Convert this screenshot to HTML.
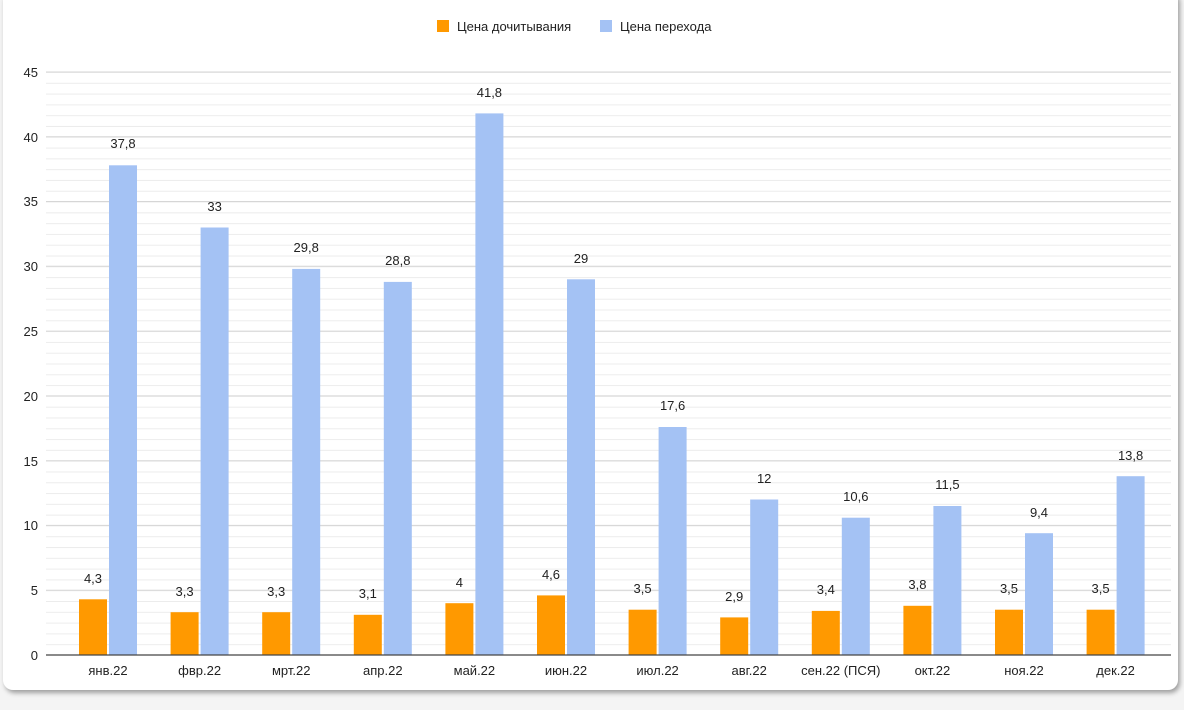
<!DOCTYPE html>
<html><head><meta charset="utf-8"><style>
html,body{margin:0;padding:0;background:#f4f4f4;width:1184px;height:710px;overflow:hidden}
.card{position:absolute;left:3px;top:-10px;width:1175px;height:700px;background:#fff;border-radius:10px;box-shadow:2px 3px 5px rgba(0,0,0,.35)}
svg{position:absolute;left:0;top:0}
text{font-family:"Liberation Sans",sans-serif;fill:#222}
</style></head><body>
<div class="card"></div>
<svg width="1184" height="710" viewBox="0 0 1184 710">
<defs><pattern id="g" patternUnits="userSpaceOnUse" x="0" y="72" width="10" height="10.7963"><line x1="0" y1="0.5" x2="10" y2="0.5" stroke="#ececec" stroke-width="1"/></pattern></defs>
<rect x="46" y="72" width="1125" height="583" fill="url(#g)"/>
<g stroke="#d6d6d6" stroke-width="1">
<line x1="46" x2="1171" y1="590.2" y2="590.2"/><line x1="46" x2="1171" y1="525.4" y2="525.4"/><line x1="46" x2="1171" y1="460.7" y2="460.7"/><line x1="46" x2="1171" y1="395.9" y2="395.9"/><line x1="46" x2="1171" y1="331.1" y2="331.1"/><line x1="46" x2="1171" y1="266.3" y2="266.3"/><line x1="46" x2="1171" y1="201.5" y2="201.5"/><line x1="46" x2="1171" y1="136.7" y2="136.7"/><line x1="46" x2="1171" y1="72" y2="72"/>
</g>
<g font-size="13" text-anchor="end">
<text x="38" y="660">0</text><text x="38" y="595">5</text><text x="38" y="530">10</text><text x="38" y="466">15</text><text x="38" y="401">20</text><text x="38" y="336">25</text><text x="38" y="271">30</text><text x="38" y="206">35</text><text x="38" y="142">40</text><text x="38" y="77">45</text>
</g>
<g fill="#ff9900">
<rect x="79" y="599.3" width="28" height="55.7"/><rect x="170.6" y="612.2" width="28" height="42.8"/><rect x="262.2" y="612.2" width="28" height="42.8"/><rect x="353.8" y="614.8" width="28" height="40.2"/><rect x="445.4" y="603.2" width="28" height="51.8"/><rect x="537" y="595.4" width="28" height="59.6"/><rect x="628.6" y="609.7" width="28" height="45.3"/><rect x="720.2" y="617.4" width="28" height="37.6"/><rect x="811.8" y="610.9" width="28" height="44.1"/><rect x="903.4" y="605.8" width="28" height="49.2"/><rect x="995" y="609.7" width="28" height="45.3"/><rect x="1086.6" y="609.7" width="28" height="45.3"/>
</g>
<g fill="#a4c2f4">
<rect x="109" y="165.3" width="28" height="489.7"/><rect x="200.6" y="227.5" width="28" height="427.5"/><rect x="292.2" y="268.9" width="28" height="386.1"/><rect x="383.8" y="281.9" width="28" height="373.1"/><rect x="475.4" y="113.4" width="28" height="541.6"/><rect x="567" y="279.3" width="28" height="375.7"/><rect x="658.6" y="427" width="28" height="228"/><rect x="750.2" y="499.5" width="28" height="155.5"/><rect x="841.8" y="517.7" width="28" height="137.3"/><rect x="933.4" y="506" width="28" height="149"/><rect x="1025" y="533.2" width="28" height="121.8"/><rect x="1116.6" y="476.2" width="28" height="178.8"/>
</g>
<line x1="46" x2="1171" y1="655" y2="655" stroke="#444" stroke-width="1.2"/>
<g font-size="13" text-anchor="middle">
<text x="93" y="583">4,3</text><text x="184.6" y="596">3,3</text><text x="276.2" y="596">3,3</text><text x="367.8" y="598">3,1</text><text x="459.4" y="587">4</text><text x="551" y="579">4,6</text><text x="642.6" y="593">3,5</text><text x="734.2" y="601">2,9</text><text x="825.8" y="594">3,4</text><text x="917.4" y="589">3,8</text><text x="1009" y="593">3,5</text><text x="1100.6" y="593">3,5</text>
<text x="123" y="148">37,8</text><text x="214.6" y="211">33</text><text x="306.2" y="252">29,8</text><text x="397.8" y="265">28,8</text><text x="489.4" y="97">41,8</text><text x="581" y="263">29</text><text x="672.6" y="410">17,6</text><text x="764.2" y="483">12</text><text x="855.8" y="501">10,6</text><text x="947.4" y="489">11,5</text><text x="1039" y="517">9,4</text><text x="1130.6" y="460">13,8</text>
<text x="108" y="675">янв.22</text><text x="199.6" y="675">фвр.22</text><text x="291.2" y="675">мрт.22</text><text x="382.8" y="675">апр.22</text><text x="474.4" y="675">май.22</text><text x="566" y="675">июн.22</text><text x="657.6" y="675">июл.22</text><text x="749.2" y="675">авг.22</text><text x="840.8" y="675">сен.22 (ПСЯ)</text><text x="932.4" y="675">окт.22</text><text x="1024" y="675">ноя.22</text><text x="1115.6" y="675">дек.22</text>
</g>
<rect x="437" y="20" width="12" height="12" fill="#ff9900"/>
<text x="457" y="31" font-size="13">Цена дочитывания</text>
<rect x="600" y="20" width="12" height="12" fill="#a4c2f4"/>
<text x="620" y="31" font-size="13">Цена перехода</text>
</svg>
</body></html>
